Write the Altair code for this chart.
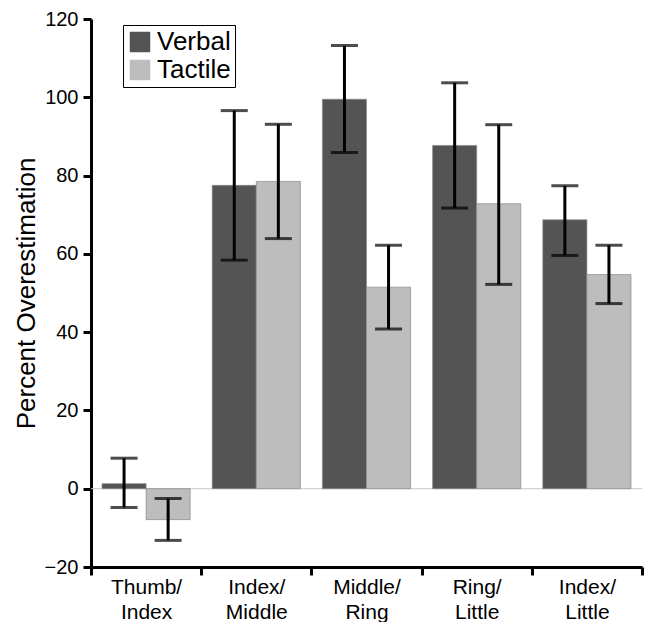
import altair as alt
import pandas as pd

categories = ["Thumb/Index", "Index/Middle", "Middle/Ring", "Ring/Little", "Index/Little"]
series = ["Verbal", "Tactile"]
verbal = [1.3, 77.5, 99.5, 87.7, 68.7]
verbal_hi = [7.8, 96.6, 113.2, 103.7, 77.4]
verbal_lo = [-4.8, 58.4, 85.9, 71.7, 59.6]
tactile = [-7.9, 78.5, 51.5, 72.8, 54.7]
tactile_hi = [-2.5, 93.1, 62.2, 93.0, 62.2]
tactile_lo = [-13.2, 63.9, 40.8, 52.2, 47.3]

rows = []
for i, c in enumerate(categories):
    rows.append({"cat": c, "series": "Verbal", "value": verbal[i], "lo": verbal_lo[i], "hi": verbal_hi[i]})
    rows.append({"cat": c, "series": "Tactile", "value": tactile[i], "lo": tactile_lo[i], "hi": tactile_hi[i]})
df = pd.DataFrame(rows)

FONT = "Liberation Sans"

x = alt.X("cat:N", sort=categories, title=None,
          scale=alt.Scale(paddingInner=0, paddingOuter=0),
          axis=alt.Axis(labelExpr="datum.label ? [split(datum.label,'/')[0] + '/', split(datum.label,'/')[1]] : ''",
                        labelAngle=0, labelFontSize=21, labelFont=FONT, labelColor="black",
                        tickBand="extent", tickSize=8, tickWidth=3, tickColor="black",
                        domainColor="black", domainWidth=3, labelPadding=1, labelLineHeight=25))
xo = alt.XOffset("series:N", sort=series, scale=alt.Scale(paddingInner=0, paddingOuter=0.25))
y_scale = alt.Scale(domain=[-20, 120], nice=False)
y = alt.Y("value:Q", scale=y_scale, title="Percent Overestimation",
          axis=alt.Axis(values=[-20, 0, 20, 40, 60, 80, 100, 120], grid=False,
                        labelFontSize=20, labelFont=FONT, labelColor="black",
                        tickSize=8, tickWidth=3, tickColor="black",
                        domainColor="black", domainWidth=3, labelPadding=5,
                        titleFontSize=26, titleFont=FONT, titleFontWeight="normal",
                        titleColor="black", titlePadding=5))

color = alt.Color("series:N", sort=series,
                  scale=alt.Scale(domain=series, range=["#545454", "#bdbdbd"]),
                  legend=alt.Legend(title=None, orient="none", legendX=32, legendY=6,
                                    strokeColor="black", fillColor="white", padding=4,
                                    symbolType="square", symbolSize=420, symbolStrokeWidth=0,
                                    labelFontSize=26, labelFont=FONT, labelColor="black",
                                    rowPadding=2, labelOffset=4))

base = alt.Chart(df)

bars = base.mark_bar(stroke="#888888", strokeWidth=0.7).encode(x=x, xOffset=xo, y=y, color=color)

zero = alt.Chart(pd.DataFrame({"z": [0]})).mark_rule(color="#c8c8c8", strokeWidth=1).encode(
    y=alt.Y("z:Q", scale=y_scale))

err = base.mark_rule(color="black", strokeWidth=3).encode(
    x=x, xOffset=xo, y=alt.Y("lo:Q", scale=y_scale), y2="hi:Q")
cap_lo = base.mark_tick(color="black", thickness=3, size=27).encode(
    x=x, xOffset=xo, y=alt.Y("lo:Q", scale=y_scale))
cap_hi = base.mark_tick(color="black", thickness=3, size=27).encode(
    x=x, xOffset=xo, y=alt.Y("hi:Q", scale=y_scale))

chart = alt.layer(zero, bars, err, cap_lo, cap_hi).properties(
    width=551, height=548,
    padding={"left": 5, "top": 1, "right": 0, "bottom": 0},
).configure_view(stroke=None).configure_axis(labelFont=FONT, titleFont=FONT)

chart.save("out.html", embed_options={"renderer": "svg", "actions": False})
